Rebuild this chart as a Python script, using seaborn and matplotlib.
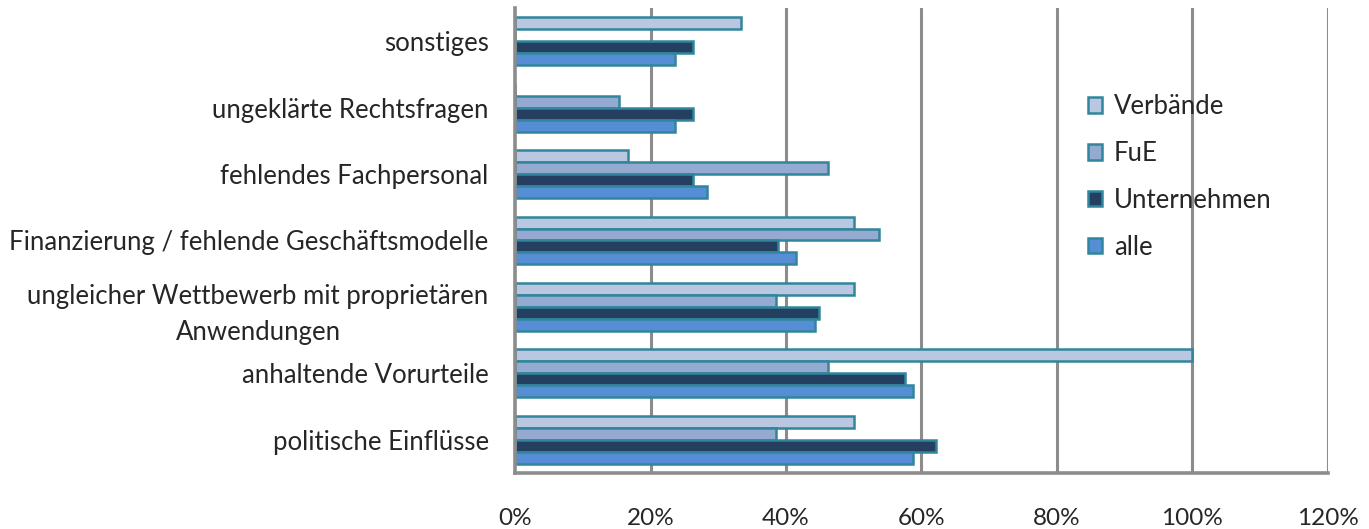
import pandas as pd
import matplotlib.pyplot as plt
import seaborn as sns

# values (share of respondents, %)
categories = [
    'sonstiges',
    'ungeklärte Rechtsfragen',
    'fehlendes Fachpersonal',
    'Finanzierung / fehlende Geschäftsmodelle',
    'ungleicher Wettbewerb mit proprietären\nAnwendungen',
    'anhaltende Vorurteile',
    'politische Einflüsse',
]
verbaende = [33.3, 0.0, 16.7, 50.0, 50.0, 100.0, 50.0]
fue = [0.0, 15.4, 46.2, 53.8, 38.5, 46.2, 38.5]
unternehmen = [26.2, 26.2, 26.2, 38.8, 44.9, 57.6, 62.2]
alle = [23.6, 23.6, 28.4, 41.5, 44.3, 58.7, 58.7]

groups = ['Verbände', 'FuE', 'Unternehmen', 'alle']
colors = ['#B9C7E1', '#95AAD1', '#243F60', '#558ED5']
xticks = [0, 20, 40, 60, 80, 100, 120]

rows = []
for name, vals in zip(groups, [verbaende, fue, unternehmen, alle]):
    for cat, v in zip(categories, vals):
        rows.append({'Kategorie': cat, 'Gruppe': name, 'Anteil': v})
df = pd.DataFrame(rows)

sns.set_style('white')
plt.rcParams['font.family'] = ['Lato', 'DejaVu Sans']

fig = plt.figure(figsize=(13.69, 5.29), dpi=100)
ax = fig.add_axes([0.3762, 0.1059, 0.5938, 0.879])

sns.barplot(data=df, y='Kategorie', x='Anteil', hue='Gruppe', order=categories,
            hue_order=groups, palette=colors, saturation=1, orient='h', width=0.72,
            edgecolor='#31859C', linewidth=1.8, ax=ax, legend=True)

ax.set_xlim(0, 120)
ax.set_ylim(6.5, -0.5)
ax.set_xticks(xticks)
ax.set_xticklabels([f'{t}%' for t in xticks], fontsize=17.5)
ax.tick_params(axis='x', length=0, pad=25)
ax.tick_params(axis='y', length=0, pad=19, labelsize=18.5)
for lab in ax.get_yticklabels():
    lab.set_multialignment('center')
    lab.set_linespacing(1.55)
ax.set_xlabel('')
ax.set_ylabel('')

for t in xticks[1:]:
    ax.axvline(t, color='#8C8C8C', linewidth=2.2, zorder=0)

for side in ['top', 'right']:
    ax.spines[side].set_visible(False)
for side in ['left', 'bottom']:
    ax.spines[side].set_color('#8C8C8C')
    ax.spines[side].set_linewidth(2.6)

handles, labels = ax.get_legend_handles_labels()
ax.legend(handles, labels, loc='upper left', bbox_to_anchor=(0.7948, 0.822),
          bbox_transform=fig.transFigure, frameon=False, fontsize=18.5,
          handlelength=0.55, handleheight=0.55, handletextpad=0.45,
          labelspacing=0.85, borderaxespad=0, borderpad=0)

fig.savefig('out.png', dpi=100)
